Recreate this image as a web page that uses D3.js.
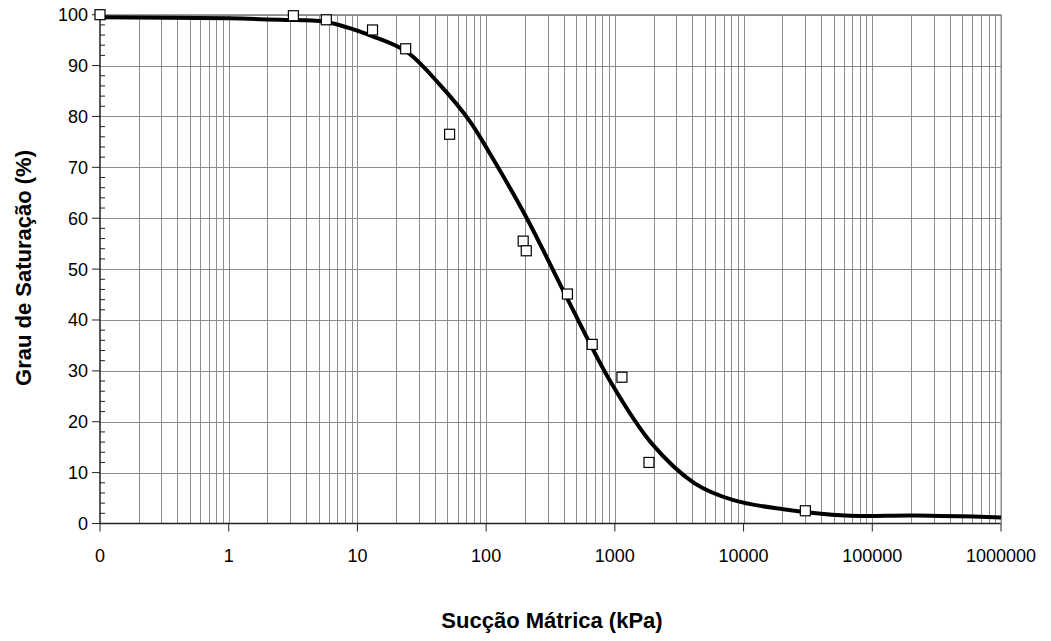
<!DOCTYPE html>
<html>
<head>
<meta charset="utf-8">
<script src="https://cdn.jsdelivr.net/npm/d3@7"></script>
<style>
  body { margin: 0; background: #fff; }
  text { font-family: Arial, "Liberation Sans", sans-serif; }
</style>
</head>
<body>
<svg id="chart"></svg>
<script>
// Curva de retenção: grau de saturação vs sucção mátrica

const width = 1051;
const height = 641;

// measured points (kPa, %)
const pointSuction = [0.1, 3.18, 5.73, 13.1, 23.7, 52, 194, 205, 428, 667, 1135, 1841, 30200];
const pointSaturation = [100, 99.8, 99.0, 97.0, 93.3, 76.5, 55.5, 53.6, 45.1, 35.2, 28.75, 12.0, 2.5];

// fitted curve
const curveSuction = [0.1, 1, 2.5, 5.6, 13.3, 24.2, 43.8, 75, 103, 204, 431, 938, 1923, 4170, 8340, 20400, 61700, 214000, 1000000];
const curveSaturation = [99.5, 99.3, 99.0, 98.6, 95.7, 92.7, 86.2, 79.0, 73.4, 60.3, 44.0, 27.6, 15.8, 7.9, 4.6, 2.8, 1.55, 1.55, 1.2];

const xTicks = [0.1, 1, 10, 100, 1000, 10000, 100000, 1000000];
const xTickLabels = ["0", "1", "10", "100", "1000", "10000", "100000", "1000000"];
const yTicks = [0, 10, 20, 30, 40, 50, 60, 70, 80, 90, 100];

const svg = d3.select("#chart").attr("width", width).attr("height", height);

const x = d3.scaleLog().domain([0.1, 1000000]).range([100, 1001]);
const y = d3.scaleLinear().domain([0, 100]).range([523.5, 14.7]);

const gridColor = "#8c8c8c";

// vertical grid (log minors + majors)
const vLines = [];
for (let d = -1; d < 6; d++) {
    for (let k = 1; k <= 9; k++) vLines.push(k * Math.pow(10, d));
}
vLines.push(1000000);

svg.append("g").selectAll("line")
    .data(vLines.filter(v => v > 0.1))
    .join("line")
    .attr("x1", d => Math.round(x(d)) + 0.5)
    .attr("x2", d => Math.round(x(d)) + 0.5)
    .attr("y1", y(100))
    .attr("y2", y(0))
    .attr("stroke", gridColor)
    .attr("stroke-width", 1);

// horizontal grid
svg.append("g").selectAll("line")
    .data(yTicks.filter(v => v > 0))
    .join("line")
    .attr("x1", x(0.1))
    .attr("x2", x(1000000))
    .attr("y1", d => Math.round(y(d)) + 0.5)
    .attr("y2", d => Math.round(y(d)) + 0.5)
    .attr("stroke", gridColor)
    .attr("stroke-width", 1);

// y axis: major ticks outward, minor ticks inward
const yAxis = svg.append("g").attr("transform", `translate(${x(0.1)},0)`);
yAxis.append("line")
    .attr("x1", 0).attr("x2", 0)
    .attr("y1", y(0)).attr("y2", y(100))
    .attr("stroke", "#222").attr("stroke-width", 1.5);
yAxis.selectAll(".major")
    .data(yTicks)
    .join("line")
    .attr("x1", -8).attr("x2", 0)
    .attr("y1", d => y(d)).attr("y2", d => y(d))
    .attr("stroke", "#222");
yAxis.selectAll(".minor")
    .data(d3.range(0, 100, 2).filter(v => v % 10 !== 0))
    .join("line")
    .attr("x1", 0).attr("x2", 5)
    .attr("y1", d => y(d)).attr("y2", d => y(d))
    .attr("stroke", "#222");
yAxis.selectAll("text")
    .data(yTicks)
    .join("text")
    .attr("x", -12)
    .attr("y", d => y(d))
    .attr("dy", "0.36em")
    .attr("text-anchor", "end")
    .attr("font-size", 18)
    .text(d => d);

// x axis
const xAxis = svg.append("g").attr("transform", `translate(0,${y(0)})`);
xAxis.append("line")
    .attr("x1", x(0.1)).attr("x2", x(1000000))
    .attr("y1", 0).attr("y2", 0)
    .attr("stroke", "#222").attr("stroke-width", 1.5);
xAxis.selectAll(".tick")
    .data(xTicks)
    .join("line")
    .attr("x1", d => x(d)).attr("x2", d => x(d))
    .attr("y1", 0).attr("y2", 8)
    .attr("stroke", "#222");
xAxis.selectAll("text")
    .data(xTicks)
    .join("text")
    .attr("x", d => x(d))
    .attr("y", 38)
    .attr("text-anchor", "middle")
    .attr("font-size", 18)
    .text((d, i) => xTickLabels[i]);

// right and top border
svg.append("line")
    .attr("x1", x(1000000)).attr("x2", x(1000000))
    .attr("y1", y(0)).attr("y2", y(100))
    .attr("stroke", "#888");
svg.append("line")
    .attr("x1", x(0.1)).attr("x2", x(1000000))
    .attr("y1", y(100)).attr("y2", y(100))
    .attr("stroke", "#888");

// fitted curve
const line = d3.line()
    .x(d => x(d[0]))
    .y(d => y(d[1]))
    .curve(d3.curveCatmullRom.alpha(0.5));

svg.append("path")
    .datum(curveSuction.map((s, i) => [s, curveSaturation[i]]))
    .attr("d", line)
    .attr("fill", "none")
    .attr("stroke", "#000")
    .attr("stroke-width", 4)
    .attr("stroke-linejoin", "round");

// measured points
const sq = 10;
svg.append("g").selectAll("rect")
    .data(pointSuction.map((s, i) => [s, pointSaturation[i]]))
    .join("rect")
    .attr("x", d => x(d[0]) - sq / 2)
    .attr("y", d => y(d[1]) - sq / 2)
    .attr("width", sq)
    .attr("height", sq)
    .attr("fill", "#fff")
    .attr("stroke", "#000")
    .attr("stroke-width", 1.2);

// axis titles
svg.append("text")
    .attr("x", 552)
    .attr("y", 628)
    .attr("text-anchor", "middle")
    .attr("font-size", 22)
    .attr("font-weight", "bold")
    .text("Sucção Mátrica (kPa)");

svg.append("text")
    .attr("transform", "translate(31,268) rotate(-90)")
    .attr("text-anchor", "middle")
    .attr("font-size", 22)
    .attr("font-weight", "bold")
    .text("Grau de Saturação (%)");
</script>
</body>
</html>
